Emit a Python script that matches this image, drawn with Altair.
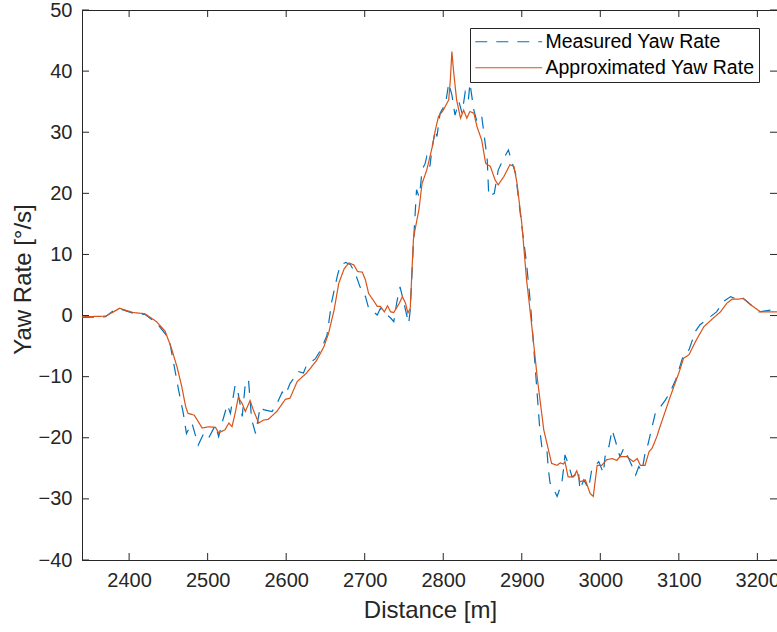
import altair as alt
import pandas as pd

# ---- data ----
approx_x = [2340, 2370, 2380, 2388, 2395, 2405, 2420, 2435, 2446, 2454, 2461, 2467, 2472, 2475,
            2483, 2493, 2501, 2510, 2514, 2522, 2527, 2531, 2535, 2539, 2544, 2548, 2554, 2558,
            2565, 2571, 2577, 2588, 2599, 2605, 2614, 2626, 2639, 2648, 2654, 2661, 2667, 2674,
            2680, 2686, 2691, 2697, 2701, 2705, 2712, 2716, 2720, 2725, 2729, 2733, 2737, 2744,
            2748, 2752, 2755, 2758, 2760, 2762, 2764, 2769, 2773, 2779, 2786, 2790, 2794, 2800,
            2807, 2809, 2811, 2813, 2817, 2822, 2826, 2830, 2834, 2839, 2843, 2849, 2854, 2860,
            2866, 2870, 2877, 2885, 2890, 2894, 2900, 2906, 2913, 2920, 2928, 2934, 2938, 2945,
            2949, 2953, 2955, 2959, 2966, 2970, 2974, 2981, 2987, 2991, 2996, 3002, 3008, 3015,
            3021, 3025, 3034, 3042, 3047, 3051, 3057, 3062, 3066, 3072, 3076, 3089, 3100, 3106,
            3113, 3121, 3132, 3144, 3153, 3161, 3168, 3176, 3182, 3189, 3204, 3212, 3225]
approx_y = [-0.2, -0.1, 0.6, 1.2, 0.9, 0.5, 0.3, -1.0, -2.6, -5.4, -8.4, -11.6, -14.9, -16.0,
            -16.3, -18.4, -18.2, -18.3, -19.2, -18.7, -17.6, -18.2, -16.0, -13.4, -14.4, -15.7, -13.9, -15.4,
            -17.6, -17.1, -17.0, -15.7, -13.7, -13.5, -10.8, -9.4, -7.3, -5.1, -2.9, 0.9, 5.3, 7.7,
            8.6, 8.3, 7.2, 7.1, 5.8, 3.6, 2.3, 1.5, 1.5, 0.6, 1.6, 0.6, 0.5, 2.0,
            3.1, 2.0, 0.4, 1.2, 6.9, 12.4, 14.0, 17.3, 21.6, 23.8, 27.6, 30.4, 32.6, 33.6,
            35.3, 38.5, 43.2, 40.2, 35.3, 32.3, 33.6, 32.3, 33.4, 33.1, 30.9, 28.7, 24.9, 24.4,
            22.2, 21.4, 22.7, 24.7, 24.4, 21.6, 15.1, 6.0, -2.0, -10.5, -18.7, -22.0, -24.2, -24.5,
            -24.1, -24.3, -23.9, -26.4, -26.4, -25.4, -27.2, -26.9, -29.1, -29.6, -24.5, -24.5, -23.6, -23.4,
            -23.7, -23.1, -23.1, -23.9, -23.4, -24.5, -24.5, -22.3, -21.7, -19.8, -18.2, -13.3, -9.4, -7.0,
            -6.4, -4.3, -1.8, -0.4, 0.6, 2.0, 2.7, 2.7, 2.8, 2.0, 0.6, 0.6, 0.6]

meas_x = [2340, 2370, 2380, 2388, 2395, 2405, 2420, 2435, 2446, 2452, 2456, 2463, 2469, 2473,
          2480, 2488, 2495, 2501, 2510, 2514, 2520, 2525, 2529, 2535, 2539, 2544, 2548, 2552,
          2556, 2561, 2567, 2571, 2582, 2588, 2595, 2599, 2605, 2616, 2622, 2626, 2637, 2645,
          2652, 2658, 2665, 2669, 2676, 2682, 2688, 2694, 2701, 2705, 2716, 2720, 2726, 2733,
          2737, 2741, 2745, 2748, 2752, 2756, 2758, 2762, 2766, 2769, 2771, 2773, 2777, 2779,
          2783, 2786, 2790, 2792, 2796, 2803, 2807, 2811, 2815, 2820, 2824, 2828, 2832, 2834,
          2839, 2843, 2849, 2854, 2856, 2858, 2865, 2870, 2877, 2883, 2887, 2892, 2898, 2906,
          2911, 2918, 2923, 2926, 2932, 2934, 2936, 2941, 2945, 2951, 2953, 2955, 2959, 2964,
          2968, 2972, 2974, 2979, 2985, 2989, 2994, 2998, 3004, 3006, 3011, 3015, 3019, 3025,
          3030, 3034, 3040, 3045, 3049, 3053, 3057, 3059, 3063, 3070, 3074, 3083, 3089, 3096,
          3100, 3106, 3113, 3121, 3127, 3138, 3148, 3157, 3166, 3173, 3180, 3187, 3202, 3217, 3225]
meas_y = [-0.3, -0.2, 0.8, 1.1, 0.8, 0.4, 0.2, -1.2, -3.0, -4.5, -7.3, -12.2, -16.0, -19.3,
          -17.6, -21.2, -19.3, -20.1, -17.9, -19.8, -16.8, -14.6, -16.0, -11.4, -12.8, -16.5, -11.1, -10.5,
          -17.0, -19.3, -14.9, -15.4, -15.7, -14.5, -12.5, -13.0, -11.1, -9.2, -9.4, -8.1, -7.1, -5.4,
          -3.2, 2.3, 6.4, 8.3, 8.7, 8.3, 6.9, 4.7, 3.1, 1.2, 0.1, 1.2, 0.4, -0.4,
          -1.0, 2.3, 4.7, 3.1, 0.9, -1.3, 0.9, 11.8, 20.6, 19.5, 21.1, 23.8, 24.9, 26.0,
          24.4, 27.6, 30.4, 29.3, 33.1, 34.7, 38.0, 36.1, 32.8, 35.0, 33.1, 36.6, 35.3, 38.0,
          33.6, 31.7, 32.6, 27.6, 25.5, 19.5, 20.0, 23.8, 25.7, 27.1, 25.3, 23.3, 16.8, 8.6,
          2.0, -10.0, -18.7, -22.0, -22.0, -25.3, -27.4, -28.5, -29.6, -27.4, -25.3, -22.8, -24.2, -26.4,
          -26.1, -25.3, -28.5, -26.9, -28.3, -25.3, -24.5, -23.9, -25.8, -23.1, -21.4, -18.7, -20.4, -23.1,
          -21.7, -22.8, -24.5, -26.1, -24.7, -25.5, -22.5, -22.0, -19.8, -16.0, -15.4, -13.8, -12.5, -10.5,
          -8.9, -6.4, -5.6, -2.6, -1.5, -0.4, 0.6, 2.3, 3.1, 2.7, 3.0, 2.3, 0.6, 0.9, 0.5]

series_names = ["Measured Yaw Rate", "Approximated Yaw Rate"]
series_colors = ["#0072BD", "#D95319"]
x_ticks = [2400, 2500, 2600, 2700, 2800, 2900, 3000, 3100, 3200]
y_ticks = [-40, -30, -20, -10, 0, 10, 20, 30, 40, 50]

FONT = "Liberation Sans"
AX = "#262626"

meas_df = pd.DataFrame({"d": meas_x, "r": meas_y, "s": series_names[0]})
appr_df = pd.DataFrame({"d": approx_x, "r": approx_y, "s": series_names[1]})
xt_df = pd.DataFrame({"t": x_ticks})
yt_df = pd.DataFrame({"t": y_ticks})

xscale = alt.Scale(domain=[2340, 3225], nice=False, zero=False)
yscale = alt.Scale(domain=[-40, 50], nice=False, zero=False)

# legend symbol: a long horizontal stroke drawn by a custom path
leg = alt.Legend(
    orient="none", legendX=388, legendY=18, title=None,
    symbolType="M-4,0H4", symbolSize=280, symbolStrokeWidth=1.2, symbolOffset=25,
    labelFont=FONT, labelFontSize=19.5, labelColor="#000000", labelOffset=27, labelLimit=0,
    strokeColor=AX, fillColor="white", padding=4, rowPadding=5,
)
color = alt.Color("s:N", scale=alt.Scale(domain=series_names, range=series_colors), legend=leg)
dash = alt.StrokeDash("s:N", scale=alt.Scale(domain=series_names, range=[[12, 9], [1, 0]]), legend=leg)

xenc = alt.X("d:Q", scale=xscale, axis=alt.Axis(
    values=x_ticks, title="Distance [m]", format="d", tickSize=0, grid=False,
    labelPadding=10, titleX=348, titleY=57, titleBaseline="alphabetic", titleAnchor=None))
yenc = alt.Y("r:Q", scale=yscale, axis=alt.Axis(
    values=y_ticks, title="Yaw Rate [°/s]", tickSize=0, grid=False,
    labelPadding=10, titleX=-52, titleY=269, titleBaseline="alphabetic", titleAngle=270))

meas = alt.Chart(meas_df).mark_line(strokeWidth=1.2).encode(x=xenc, y=yenc, color=color, strokeDash=dash)
appr = alt.Chart(appr_df).mark_line(strokeWidth=1.2).encode(x=xenc, y=yenc, color=color, strokeDash=dash)

tick_len = 7
xb = alt.Chart(xt_df).mark_rule(color=AX, strokeWidth=1).encode(
    x=alt.X("t:Q", scale=xscale), y=alt.value(550), y2=alt.value(550 - tick_len))
xtop = alt.Chart(xt_df).mark_rule(color=AX, strokeWidth=1).encode(
    x=alt.X("t:Q", scale=xscale), y=alt.value(0), y2=alt.value(tick_len))
yl = alt.Chart(yt_df).mark_rule(color=AX, strokeWidth=1).encode(
    y=alt.Y("t:Q", scale=yscale), x=alt.value(0), x2=alt.value(tick_len))
yr = alt.Chart(yt_df).mark_rule(color=AX, strokeWidth=1).encode(
    y=alt.Y("t:Q", scale=yscale), x=alt.value(695), x2=alt.value(695 - tick_len))

chart = alt.layer(xb, xtop, yl, yr, meas, appr).properties(
    width=695, height=550,
    autosize=alt.AutoSizeParams(type="none"),
    padding={"left": 82, "top": 10, "right": 0, "bottom": 72},
    background="white",
).configure_view(stroke=AX, strokeWidth=1).configure_axis(
    domainColor=AX, domainWidth=1, labelColor=AX, labelFont=FONT, labelFontSize=20,
    titleColor=AX, titleFont=FONT, titleFontSize=24, titleFontWeight="normal",
)

chart.save("out.html", embed_options={"renderer": "svg", "actions": False})
